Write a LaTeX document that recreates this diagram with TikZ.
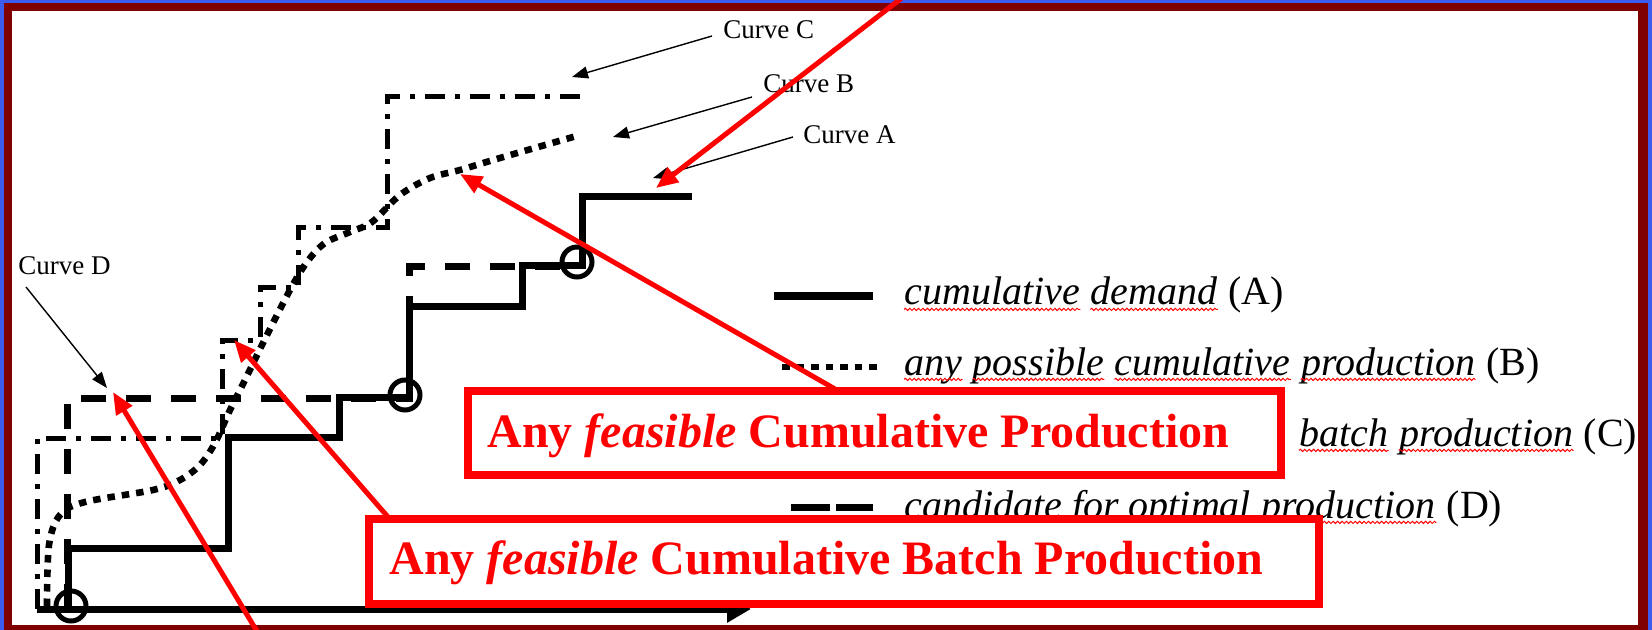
\documentclass[tikz,border=0pt]{standalone}
\usepackage{fontspec}
\setmainfont{Liberation Serif}
\usetikzlibrary{arrows.meta,decorations.pathmorphing}
\definecolor{bluebg}{RGB}{60,92,238}
\definecolor{framered}{RGB}{128,0,0}
\definecolor{hired}{RGB}{255,0,0}
\begin{document}
\begin{tikzpicture}[x=0.5pt,y=-0.5pt,
  curveA/.style={line width=3.5pt},
  curveB/.style={line width=3.3pt,dash pattern=on 3.75pt off 3.5pt},
  curveC/.style={line width=2.5pt,dash pattern=on 10pt off 5pt on 2.5pt off 5pt},
  curveD/.style={line width=3.5pt,dash pattern=on 12.5pt off 10pt},
  ring/.style={circle,draw,line width=2.5pt,minimum size=15pt,inner sep=0pt},
  lbl/.style={font=\fontsize{13.5}{16}\selectfont,inner sep=0pt,anchor=base west},
  leg/.style={font=\fontsize{20}{24}\selectfont,inner sep=0pt,anchor=base west},
  legit/.style={leg,font=\fontsize{20}{24}\selectfont\itshape},
  squig/.style={hired,line width=0.5pt,decorate,decoration={snake,amplitude=0.55pt,segment length=2.2pt}},
  thinarrow/.style={line width=0.7pt,-{Triangle[length=8pt,width=6pt]}},
  redarrow/.style={hired,line width=2.5pt,-{Triangle[length=11pt,width=9pt]}},
  redbox/.style={draw=hired,fill=white,line width=4pt,inner sep=0pt,outer sep=2pt,anchor=north west},
  boxtext/.style={hired,font=\fontsize{24}{28}\selectfont\bfseries,inner sep=0pt,anchor=base west},
]
\useasboundingbox (0,0) rectangle (1652,630);
% frame
\fill[bluebg] (0,0) rectangle (1652,630);
\fill[framered] (4,3) rectangle (1648,640);
\fill[white] (12,11) rectangle (1638,625);

% curve C (batch production)
\draw[curveC] (37,609) -- (37,438) -- (222,438) -- (222,340) -- (260,340) -- (260,288)
  -- (298,288) -- (298,228) -- (387,228) -- (387,97) -- (580,97);
% curve D (candidate)
\draw[curveD] (67,609) -- (67,398) -- (409,398) -- (409,267) -- (577,267);
% curve B (any possible production)
\draw[curveB] plot[smooth,tension=0.55] coordinates {(47,606) (49,545) (60,515) (85,502)
  (153,490) (180,480) (200,465) (215,443) (230,410) (245,380) (262,345) (290,290)
  (307,262) (325,243) (350,232) (372,222) (400,195) (430,178) (460,170) (500,158) (580,135)};
% curve A (cumulative demand)
\draw[curveA] (68,609) -- (68,548) -- (228,548) -- (228,437) -- (339,437) -- (339,397)
  -- (409,397) -- (409,307) -- (522,307) -- (522,266) -- (582,266) -- (582,197) -- (692,197);
% axis
\coordinate (axs) at (37,609);
\coordinate (axe) at (751,609);
\draw[line width=3.5pt,-{Triangle[length=12pt,width=13pt]}] (axs) -- (axe);
% rings
\node[ring] (o1) at (71,606) {};
\node[ring] (o2) at (405,395) {};
\node[ring] (o3) at (577,262) {};

% curve labels
\node[lbl] (lC) at (723,39) {Curve C};
\node[lbl] (lB) at (763,93) {Curve B};
\node[lbl] (lA) at (803,144) {Curve A};
\node[lbl] (lD) at (18,275) {Curve D};
\coordinate (tC) at (572,77);
\coordinate (tB) at (613,137);
\coordinate (tA) at (653,178);
\coordinate (tD) at (107,388);
\coordinate (sC) at (712,36);
\coordinate (sB) at (752,97);
\coordinate (sA) at (793,137);
\coordinate (sD) at (26,287);
\draw[thinarrow] (sC) -- (tC);
\draw[thinarrow] (sB) -- (tB);
\draw[thinarrow] (sA) -- (tA);
\draw[thinarrow] (sD) -- (tD);

% legend samples
\draw[line width=4pt] (774,296) -- (873,296);
\draw[curveB] (782,367) -- (878,367);
\draw[line width=3.5pt,dash pattern=on 19.5pt off 3pt] (791,507) -- (873,507);
% legend A
\node[legit] (a1) at (904,305) {cumulative};
\node[legit] (a2) at ([xshift=5pt]a1.base east) {demand};
\node[leg] (a3) at ([xshift=5pt]a2.base east) {(A)};
% legend B
\node[legit] (b1) at (904,375) {any};
\node[legit] (b2) at ([xshift=5pt]b1.base east) {possible};
\node[legit] (b3) at ([xshift=5pt]b2.base east) {cumulative};
\node[legit] (b4) at ([xshift=5pt]b3.base east) {production};
\node[leg] (b5) at ([xshift=5pt]b4.base east) {(B)};
% legend C
\node[legit] (c1) at (1299,446) {batch};
\node[legit] (c2) at ([xshift=5pt]c1.base east) {production};
\node[leg] (c3) at ([xshift=5pt]c2.base east) {(C)};
% legend D
\node[legit] (d1) at (904,518) {candidate for optimal};
\node[legit] (d2) at ([xshift=5pt]d1.base east) {production};
\node[leg] (d3) at ([xshift=5pt]d2.base east) {(D)};
% spelling squiggles
\foreach \w in {a1,a2,b1,b2,b3,b4,c1,c2,d2}{
  \draw[squig] ([yshift=-2.2pt]\w.base west) -- ([yshift=-2.2pt]\w.base east);
}

% red boxes
\node[redbox,minimum width=406.5pt,minimum height=42pt] (box1) at (464,387) {};
\node[boxtext] (bt1) at (487,447) {Any \textit{feasible} Cumulative Production};
\node[redbox,minimum width=475pt,minimum height=42.5pt] (box2) at (365,515) {};
\node[boxtext] (bt2) at (389,574) {Any \textit{feasible} Cumulative Batch Production};

% red arrows
\coordinate (r1s) at (907,-6);
\coordinate (r1t) at (656,188);
\coordinate (r2s) at (835,389);
\coordinate (r2t) at (460,174);
\coordinate (r3s) at (388,517);
\coordinate (r3t) at (234,340);
\coordinate (r4s) at (261,638);
\coordinate (r4t) at (113,392);
\draw[redarrow] (r1s) -- (r1t);
\draw[redarrow] (r2s) -- (r2t);
\draw[redarrow] (r3s) -- (r3t);
\draw[redarrow] (r4s) -- (r4t);
\end{tikzpicture}
\end{document}
